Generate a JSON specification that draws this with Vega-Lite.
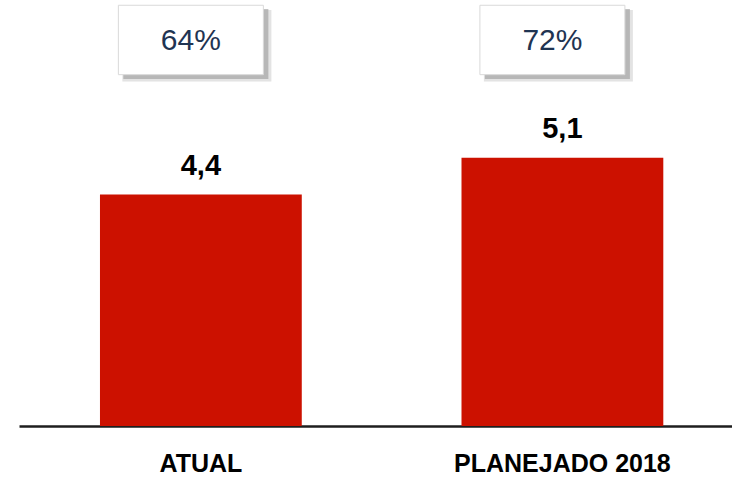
{
  "$schema": "https://vega.github.io/schema/vega-lite/v6.json",
  "width": 713,
  "height": 426,
  "autosize": {"type": "none"},
  "padding": {"left": 19, "top": 0, "right": 0, "bottom": 54},
  "background": "white",
  "config": {"view": {"stroke": null}},
  "data": {"values": [
    {"cat": "ATUAL", "valor": 4.4, "label": "4,4", "pct": "64%"},
    {"cat": "PLANEJADO 2018", "valor": 5.1, "label": "5,1", "pct": "72%"}
  ]},
  "encoding": {
    "x": {
      "field": "cat", "type": "nominal", "sort": null,
      "scale": {"paddingInner": 0.4418, "paddingOuter": 0.207, "align": 0.541},
      "axis": {
        "title": null, "labelAngle": 0, "ticks": false, "grid": false,
        "domainColor": "#1e1e1e", "domainWidth": 2.5,
        "labelFont": "Liberation Sans", "labelFontWeight": "bold", "labelFontSize": 25,
        "labelColor": "#000000", "labelPadding": 25, "labelLimit": 0
      }
    }
  },
  "layer": [
    {
      "mark": {"type": "bar", "color": "#cc1100", "width": {"band": 1}},
      "encoding": {
        "y": {"field": "valor", "type": "quantitative", "scale": {"domain": [0, 8.1], "nice": false}, "axis": null}
      }
    },
    {
      "mark": {"type": "text", "font": "Liberation Sans", "fontWeight": "bold", "fontSize": 29, "color": "#000000", "baseline": "alphabetic", "dy": -20},
      "encoding": {
        "y": {"field": "valor", "type": "quantitative"},
        "text": {"field": "label"}
      }
    },
    {
      "mark": {"type": "bar", "color": "#d0d0d0", "opacity": 0.6, "width": 149, "xOffset": -4},
      "encoding": {"y": {"datum": 7.91}, "y2": {"datum": 6.55}}
    },
    {
      "mark": {"type": "bar", "color": "#9a9a9a", "opacity": 0.6, "width": 145, "xOffset": -5},
      "encoding": {"y": {"datum": 7.93}, "y2": {"datum": 6.6}}
    },
    {
      "mark": {"type": "bar", "color": "#ffffff", "stroke": "#d9d9d9", "strokeWidth": 1, "width": 145, "xOffset": -10},
      "encoding": {"y": {"datum": 8.0}, "y2": {"datum": 6.68}}
    },
    {
      "mark": {"type": "text", "font": "Liberation Sans", "fontSize": 30, "color": "#1f3452", "baseline": "middle", "xOffset": -10, "dy": 1},
      "encoding": {
        "y": {"datum": 7.34},
        "text": {"field": "pct"}
      }
    }
  ]
}
